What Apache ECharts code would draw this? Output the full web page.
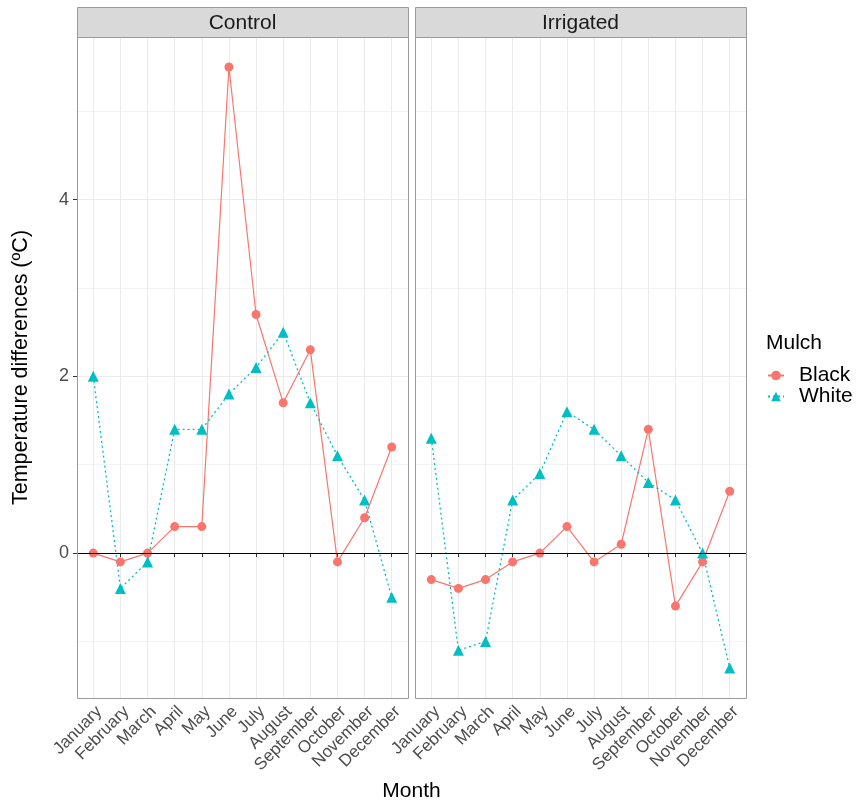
<!DOCTYPE html>
<html>
<head>
<meta charset="utf-8">
<script src="https://cdn.jsdelivr.net/npm/echarts@6/dist/echarts.min.js"></script>
<style>html,body{margin:0;padding:0;background:#fff;}#chart{width:857px;height:806px;}</style>
</head>
<body>
<div id="chart"></div>
<script>
const months = ['January','February','March','April','May','June','July','August','September','October','November','December'];
const panels = ['Control','Irrigated'];
const controlBlack = [0, -0.1, 0, 0.3, 0.3, 5.5, 2.7, 1.7, 2.3, -0.1, 0.4, 1.2];
const controlWhite = [2.0, -0.4, -0.1, 1.4, 1.4, 1.8, 2.1, 2.5, 1.7, 1.1, 0.6, -0.5];
const irrigatedBlack = [-0.3, -0.4, -0.3, -0.1, 0.0, 0.3, -0.1, 0.1, 1.4, -0.6, -0.1, 0.7];
const irrigatedWhite = [1.3, -1.1, -1.0, 0.6, 0.9, 1.6, 1.4, 1.1, 0.8, 0.6, 0.0, -1.3];
const yTickMin = 0, yTickMax = 4, yTickStep = 2;   // labelled ticks 0, 2, 4
const seriesNames = ['Black', 'White'];

const panelData = [[controlBlack, controlWhite], [irrigatedBlack, irrigatedWhite]];

// layout
const FONT = 'Liberation Sans, Arial, sans-serif';
const PANEL_LEFTS = [77, 415];
const PANEL_TOP = 37, PANEL_W = 331, PANEL_H = 661;
const STRIP_TOP = 7, STRIP_H = 30;
const X_MIN = -0.6, X_MAX = 11.6;
const Y_MIN = -1.64, Y_MAX = 5.84;
const pxX = PANEL_W / (X_MAX - X_MIN);
const pxY = PANEL_H / (Y_MAX - Y_MIN);
const BORDER = '#9a9a9a';

const grids = [], xAxes = [], yAxes = [], series = [], graphics = [];

panels.forEach((name, p) => {
  const L = PANEL_LEFTS[p];
  // grid A: full width, y from -1 to 5 (horizontal grid lines)
  grids.push({left: L, top: PANEL_TOP + (Y_MAX - 5) * pxY, width: PANEL_W, height: 6 * pxY});
  // grid B: x from Jan to Dec, full height (vertical grid lines, x labels, data)
  grids.push({left: L + (0 - X_MIN) * pxX, top: PANEL_TOP, width: 11 * pxX, height: PANEL_H});
  const gA = 2 * p, gB = 2 * p + 1;

  xAxes.push({gridIndex: gA, type: 'value', min: X_MIN, max: X_MAX, show: false});
  xAxes.push({
    gridIndex: gB, type: 'value', min: 0, max: months.length - 1, interval: 1,
    axisLine: {show: false},
    axisTick: {show: true, length: 4, lineStyle: {color: '#333', width: 1}},
    axisLabel: {
      rotate: 45, margin: 5, fontSize: 17, color: '#4d4d4d', fontFamily: FONT,
      verticalAlign: 'top',
      formatter: v => months[Math.round(v)] || ''
    },
    splitLine: {show: true, lineStyle: {color: '#ebebeb', width: 1}}
  });

  yAxes.push({
    gridIndex: gA, type: 'value', min: -1, max: 5, interval: 1,
    axisLine: {show: false}, axisTick: {show: false}, axisLabel: {show: false},
    splitLine: {show: true, lineStyle: {color: ['#f3f3f3', '#ebebeb'], width: 1}}
  });
  yAxes.push({gridIndex: gB, type: 'value', min: Y_MIN, max: Y_MAX, show: false});

  // zero reference line across whole panel
  series.push({
    name: 'zero' + p, type: 'line', xAxisIndex: gA, yAxisIndex: gA, data: [],
    markLine: {
      silent: true, symbol: ['none', 'none'], label: {show: false},
      lineStyle: {color: '#000', type: 'solid', width: 1.2},
      data: [{yAxis: 0}]
    }
  });

  const [blk, wht] = panelData[p];
  series.push({
    name: 'Black', type: 'line', xAxisIndex: gB, yAxisIndex: gB,
    data: blk.map((v, i) => [i, v]),
    symbol: 'circle', symbolSize: 9,
    itemStyle: {color: '#F8766D'},
    lineStyle: {color: '#F8766D', width: 1.2, type: 'solid'},
    z: 3
  });
  series.push({
    name: 'White', type: 'line', xAxisIndex: gB, yAxisIndex: gB,
    data: wht.map((v, i) => [i, v]),
    symbol: 'triangle', symbolSize: 11,
    itemStyle: {color: '#00BFC4'},
    lineStyle: {color: '#00BFC4', width: 1.3, type: [2, 3]},
    z: 3
  });

  // strip
  graphics.push({
    type: 'rect', z: 100,
    shape: {x: L + 0.5, y: STRIP_TOP + 0.5, width: PANEL_W, height: STRIP_H},
    style: {fill: '#d9d9d9', stroke: BORDER, lineWidth: 1}
  });
  graphics.push({
    type: 'text', z: 101, x: L + PANEL_W / 2, y: STRIP_TOP + STRIP_H / 2 + 1,
    style: {text: name, fontSize: 21, fontFamily: FONT, fill: '#1a1a1a', align: 'center', verticalAlign: 'middle'}
  });
  // panel border
  graphics.push({
    type: 'rect', z: 100,
    shape: {x: L + 0.5, y: PANEL_TOP + 0.5, width: PANEL_W, height: PANEL_H},
    style: {fill: 'none', stroke: BORDER, lineWidth: 1}
  });
});

// grid D: shared y tick labels for the left panel (0, 2, 4)
const gD = grids.length;
grids.push({
  left: PANEL_LEFTS[0], width: 10,
  top: PANEL_TOP + (Y_MAX - yTickMax) * pxY,
  height: (yTickMax - yTickMin) * pxY
});
xAxes.push({gridIndex: gD, type: 'value', min: 0, max: 1, show: false});
yAxes.push({
  gridIndex: gD, type: 'value', min: yTickMin, max: yTickMax, interval: yTickStep,
  axisLine: {show: false},
  axisTick: {show: true, length: 4, lineStyle: {color: '#333', width: 1}},
  axisLabel: {show: true, margin: 8, fontSize: 18, color: '#4d4d4d', fontFamily: FONT},
  splitLine: {show: false}
});

// axis titles and legend title
graphics.push({
  type: 'text', z: 101, x: 21, y: PANEL_TOP + PANEL_H / 2, rotation: Math.PI / 2,
  style: {text: 'Temperature differences (ºC)', fontSize: 21.5, fontFamily: FONT, fill: '#000', align: 'center', verticalAlign: 'middle'}
});
graphics.push({
  type: 'text', z: 101, x: (PANEL_LEFTS[0] + PANEL_LEFTS[1] + PANEL_W) / 2, y: 791,
  style: {text: 'Month', fontSize: 21, fontFamily: FONT, fill: '#000', align: 'center', verticalAlign: 'middle'}
});
graphics.push({
  type: 'text', z: 101, x: 766, y: 343,
  style: {text: 'Mulch', fontSize: 21, fontFamily: FONT, fill: '#000', align: 'left', verticalAlign: 'middle'}
});

const option = {
  animation: false,
  backgroundColor: '#fff',
  grid: grids,
  xAxis: xAxes,
  yAxis: yAxes,
  series: series,
  graphic: graphics,
  legend: {
    data: seriesNames,
    orient: 'vertical', left: 767, top: 365, padding: 0,
    itemWidth: 16, itemHeight: 12, itemGap: 0,
    textStyle: {fontSize: 21, fontFamily: FONT, color: '#000', padding: [0, 0, 0, 10]}
  }
};

const chart = echarts.init(document.getElementById('chart'), null, {renderer: 'canvas'});
chart.setOption(option);
</script>
</body>
</html>
